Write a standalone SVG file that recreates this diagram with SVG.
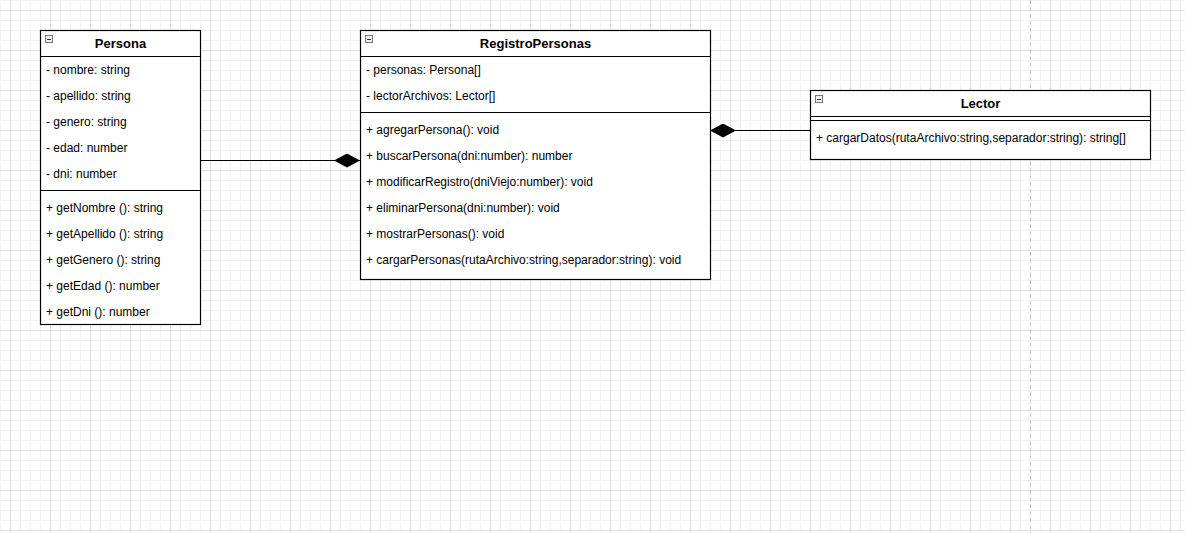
<svg xmlns="http://www.w3.org/2000/svg" width="1185" height="533" viewBox="0 0 1185 533">
  <defs>
    <pattern id="grid" patternUnits="userSpaceOnUse" x="10" y="10" width="40" height="40">
      <path d="M10.5 0V40M20.5 0V40M30.5 0V40M0 10.5H40M0 20.5H40M0 30.5H40" stroke="#f1f1f1" stroke-width="1" fill="none"/>
      <path d="M0.5 0V40M0 0.5H40" stroke="#dedede" stroke-width="1" fill="none"/>
    </pattern>
    <g id="collapse">
      <rect x="0.5" y="0.5" width="7" height="7" fill="#eeeeee" stroke="#777777" stroke-width="1"/>
      <path d="M2 4.5H6" stroke="#333333" stroke-width="1"/>
    </g>
    <marker id="diamond" viewBox="0 0 26 14" refX="26" refY="7" markerWidth="26" markerHeight="14" markerUnits="userSpaceOnUse" orient="auto">
      <path d="M0 7L13 0L26 7L13 14Z" fill="#000"/>
    </marker>
  </defs>
  <style>
    .box { fill: #ffffff; stroke: #000000; stroke-width: 1.2; }
    .sep { stroke: #000000; stroke-width: 1.2; fill: none; }
    .title { font-family: "Liberation Sans", Arial, sans-serif; font-size: 13px; font-weight: bold; fill: #000; text-anchor: middle; }
    .member { font-family: "Liberation Sans", Arial, sans-serif; font-size: 12px; fill: #000; }
    .edge { stroke: #000000; stroke-width: 1.2; fill: none; }
  </style>

  <!-- canvas grid -->
  <rect width="1185" height="533" fill="#ffffff"/>
  <rect width="1185" height="533" fill="url(#grid)"/>
  <!-- page break -->
  <line x1="1030.5" y1="0" x2="1030.5" y2="533" stroke="#c8c8c8" stroke-width="1" stroke-dasharray="4 3"/>

  <!-- connectors -->
  <g id="connectors">
    <path class="edge" d="M200 160.5H360" marker-end="url(#diamond)"/>
    <path class="edge" d="M810 130.5H710" marker-end="url(#diamond)"/>
  </g>

  <!-- Persona -->
  <g id="persona">
    <rect class="box" x="40.5" y="30.5" width="160" height="294"/>
    <line class="sep" x1="40.5" y1="56.5" x2="200.5" y2="56.5"/>
    <line class="sep" x1="40.5" y1="190.5" x2="200.5" y2="190.5"/>
    <use href="#collapse" x="45" y="35"/>
    <text class="title" x="120.5" y="48">Persona</text>
    <text class="member" x="46" y="74">- nombre: string</text>
    <text class="member" x="46" y="100">- apellido: string</text>
    <text class="member" x="46" y="126">- genero: string</text>
    <text class="member" x="46" y="152">- edad: number</text>
    <text class="member" x="46" y="178">- dni: number</text>
    <text class="member" x="46" y="212">+ getNombre (): string</text>
    <text class="member" x="46" y="238">+ getApellido (): string</text>
    <text class="member" x="46" y="264">+ getGenero (): string</text>
    <text class="member" x="46" y="290">+ getEdad (): number</text>
    <text class="member" x="46" y="316">+ getDni (): number</text>
  </g>

  <!-- RegistroPersonas -->
  <g id="registroPersonas">
    <rect class="box" x="360.5" y="30.5" width="350" height="249"/>
    <line class="sep" x1="360.5" y1="56.5" x2="710.5" y2="56.5"/>
    <line class="sep" x1="360.5" y1="112.5" x2="710.5" y2="112.5"/>
    <use href="#collapse" x="365" y="35"/>
    <text class="title" x="535.5" y="48">RegistroPersonas</text>
    <text class="member" x="366" y="74">- personas: Persona[]</text>
    <text class="member" x="366" y="100">- lectorArchivos: Lector[]</text>
    <text class="member" x="366" y="134">+ agregarPersona(): void</text>
    <text class="member" x="366" y="160">+ buscarPersona(dni:number): number</text>
    <text class="member" x="366" y="186">+ modificarRegistro(dniViejo:number): void</text>
    <text class="member" x="366" y="212">+ eliminarPersona(dni:number): void</text>
    <text class="member" x="366" y="238">+ mostrarPersonas(): void</text>
    <text class="member" x="366" y="264">+ cargarPersonas(rutaArchivo:string,separador:string): void</text>
  </g>

  <!-- Lector -->
  <g id="lector">
    <rect class="box" x="810.5" y="90.5" width="340" height="69"/>
    <line class="sep" x1="810.5" y1="116.5" x2="1150.5" y2="116.5"/>
    <line class="sep" x1="810.5" y1="120.5" x2="1150.5" y2="120.5"/>
    <use href="#collapse" x="815" y="95"/>
    <text class="title" x="980.5" y="108">Lector</text>
    <text class="member" x="816" y="142">+ cargarDatos(rutaArchivo:string,separador:string): string[]</text>
  </g>
</svg>
